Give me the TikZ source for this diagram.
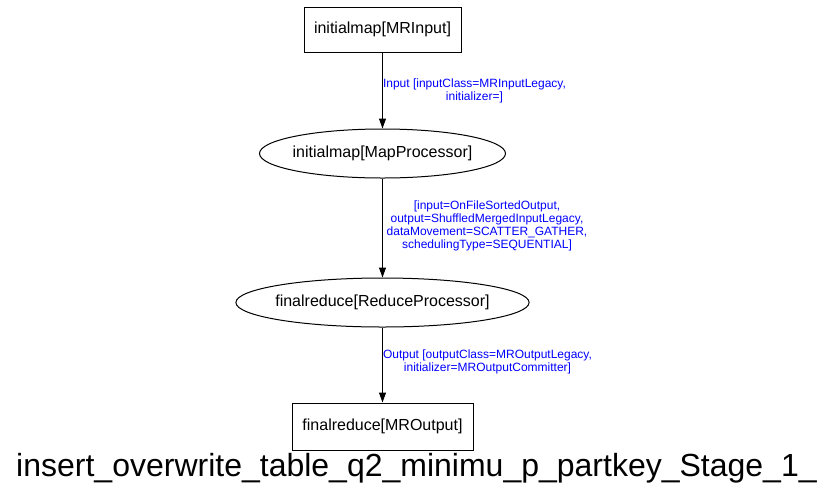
\documentclass[tikz,border=0pt]{standalone}
\usepackage{fontspec}
\setmainfont{Liberation Sans}
\usetikzlibrary{positioning,shapes.geometric,arrows.meta}

\begin{document}
\begin{tikzpicture}
        [ x = 1pt, y = 1pt
        , box/.style =
          { draw, rectangle, line width=1pt, font=\fontsize{16}{18}\selectfont }
        , proc/.style =
          { draw, ellipse, inner xsep=-3.5pt, inner ysep=0pt, line width=1pt, font=\fontsize{16}{18}\selectfont }
        , edge/.style =
          { line width=1pt, -{Triangle[length=10pt,width=7pt]} }
        , lbl/.style =
          { blue, align=center, font=\fontsize{12}{13}\selectfont }
        ]
        \useasboundingbox (0,0) rectangle (833,-499);
        \node [box, minimum width=157pt, minimum height=45pt] (mapin) at (382.5,-29.5) {initialmap[MRInput]};
        \node [proc, minimum width=246pt, minimum height=49pt] (mapproc) [below=76pt of mapin] {initialmap[MapProcessor]};
        \node [proc, minimum width=289pt, minimum height=49pt] (redproc) [below=99pt of mapproc] {finalreduce[ReduceProcessor]};
        \node [box, minimum width=181pt, minimum height=47pt] (redout) [below=75pt of redproc] {finalreduce[MROutput]};

        \draw [edge] (mapin) -- (mapproc);
        \draw [edge] (mapproc) -- (redproc);
        \draw [edge] (redproc) -- (redout);

        \node [lbl] (l1) at (474.5,-90.5) {Input [inputClass=MRInputLegacy,\\initializer=]};
        \node [lbl] (l2) at (487,-225.5) {[input=OnFileSortedOutput,\\output=ShuffledMergedInputLegacy,\\dataMovement=SCATTER\_GATHER,\\schedulingType=SEQUENTIAL]};
        \node [lbl] (l3) at (487.5,-361.5) {Output [outputClass=MROutputLegacy,\\initializer=MROutputCommitter]};

        \node [anchor=base, font=\fontsize{32}{34}\selectfont] (title) at (416.5,-476) {insert\_overwrite\_table\_q2\_minimu\_p\_partkey\_Stage\_1\_};
      \end{tikzpicture}
\end{document}
